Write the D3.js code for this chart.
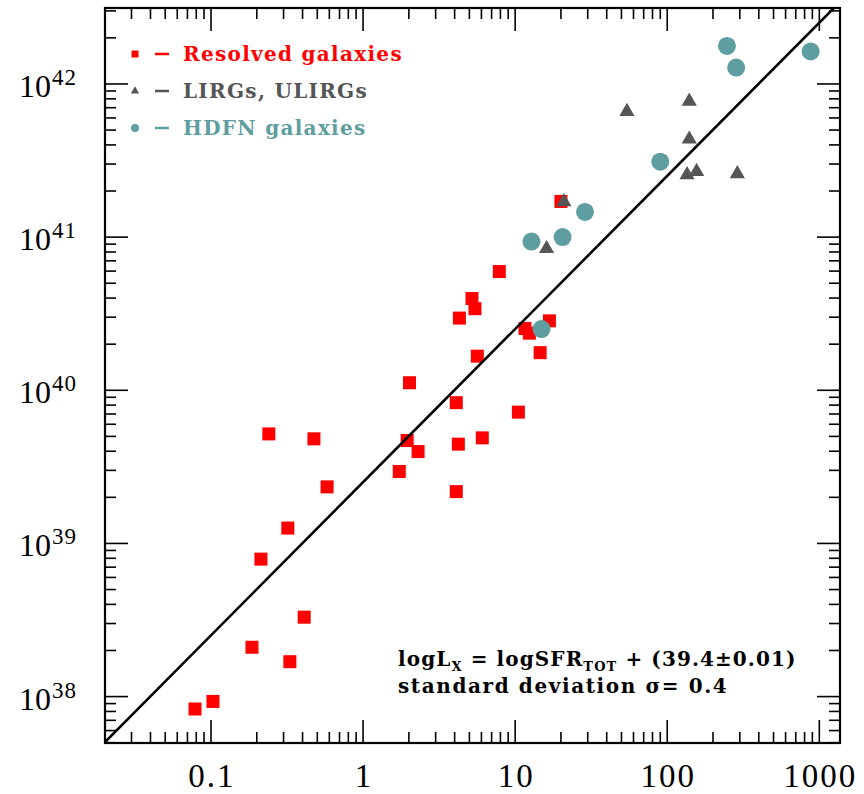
<!DOCTYPE html>
<html>
<head>
<meta charset="utf-8">
<script src="https://cdn.jsdelivr.net/npm/d3@7"></script>
<style>
  body { margin: 0; background: #fff; }
  svg { display: block; }
</style>
</head>
<body>
<div id="chart"></div>
<script>
// Resolved galaxies (red squares): SFR_TOT (Msun/yr) and L_X (erg/s)
const resolvedSfr = [0.0785, 0.103, 0.186, 0.33, 0.41, 0.213, 0.32, 0.58, 0.24, 0.475,
  2.02, 1.95, 2.3, 1.73, 4.1, 4.23, 4.1, 6.08, 10.5, 5.64,
  4.3, 5.2, 5.44, 7.87, 11.6, 12.4, 16.8, 14.6, 20];
const resolvedLx = [8.3e37, 9.3e37, 2.1e38, 1.69e38, 3.3e38, 7.9e38, 1.26e39, 2.34e39, 5.19e39, 4.82e39,
  1.12e40, 4.7e39, 3.98e39, 2.95e39, 8.3e39, 4.45e39, 2.18e39, 4.89e39, 7.2e39, 1.67e40,
  2.96e40, 3.97e40, 3.41e40, 5.96e40, 2.53e40, 2.36e40, 2.84e40, 1.76e40, 1.71e41];

// LIRGs, ULIRGs (gray triangles)
const lirgSfr = [20.9, 16.1, 54.3, 139.6, 139.6, 135, 156, 289];
const lirgLx = [1.7e41, 8.4e40, 6.6e41, 7.7e41, 4.36e41, 2.55e41, 2.68e41, 2.59e41];

// HDFN galaxies (teal circles)
const hdfnSfr = [247, 284, 877, 90, 28.8, 12.8, 20.5, 14.9];
const hdfnLx = [1.77e42, 1.28e42, 1.63e42, 3.11e41, 1.46e41, 9.35e40, 1.0e41, 2.51e40];

// Axis ticks
const xTickValues = [0.1, 1, 10, 100, 1000];
const xTickLabels = ["0.1", "1", "10", "100", "1000"];
const yTickExponents = [38, 39, 40, 41, 42];

// fit: log Lx = log SFR + 39.4
const fitOffset = 39.4;

const width = 864, height = 794;
const plot = { left: 105, right: 840, top: 8, bottom: 743 };

const x = d3.scaleLog()
  .domain([Math.pow(10, -1.697), Math.pow(10, 3.136)])
  .range([plot.left, plot.right]);
const y = d3.scaleLog()
  .domain([Math.pow(10, 37.697), Math.pow(10, 42.496)])
  .range([plot.bottom, plot.top]);

const svg = d3.select("#chart").append("svg")
  .attr("width", width)
  .attr("height", height);

svg.append("defs").append("clipPath").attr("id", "clip")
  .append("rect")
  .attr("x", plot.left).attr("y", plot.top)
  .attr("width", plot.right - plot.left)
  .attr("height", plot.bottom - plot.top);

// minor + major tick lists
function logTicks(lo, hi) {
  const out = [];
  for (let e = Math.floor(Math.log10(lo)); e <= Math.ceil(Math.log10(hi)); e++) {
    for (let m = 1; m <= 9; m++) {
      const v = m * Math.pow(10, e);
      if (v >= lo && v <= hi) out.push({ v, major: m === 1 });
    }
  }
  return out;
}

const majorLen = 23, minorLen = 11;
const tickG = svg.append("g").attr("stroke", "#000").attr("stroke-width", 1.6);

logTicks(...x.domain()).forEach(t => {
  const px = x(t.v), len = t.major ? majorLen : minorLen;
  tickG.append("line").attr("x1", px).attr("x2", px)
    .attr("y1", plot.bottom).attr("y2", plot.bottom - len);
  tickG.append("line").attr("x1", px).attr("x2", px)
    .attr("y1", plot.top).attr("y2", plot.top + len);
});
logTicks(...y.domain()).forEach(t => {
  const py = y(t.v), len = t.major ? majorLen : minorLen;
  tickG.append("line").attr("y1", py).attr("y2", py)
    .attr("x1", plot.left).attr("x2", plot.left + len);
  tickG.append("line").attr("y1", py).attr("y2", py)
    .attr("x1", plot.right).attr("x2", plot.right - len);
});

// frame
svg.append("rect")
  .attr("x", plot.left).attr("y", plot.top)
  .attr("width", plot.right - plot.left)
  .attr("height", plot.bottom - plot.top)
  .attr("fill", "none")
  .attr("stroke", "#000")
  .attr("stroke-width", 2.2);

// tick labels
const tickFont = "'Liberation Serif', serif";
svg.append("g").selectAll("text")
  .data(xTickValues)
  .enter().append("text")
  .attr("x", d => x(d) + 1)
  .attr("y", 787)
  .attr("text-anchor", "middle")
  .style("font-family", tickFont)
  .style("font-size", "33px")
  .style("letter-spacing", "2px")
  .text((d, i) => xTickLabels[i]);

const yLab = svg.append("g").selectAll("text")
  .data(yTickExponents)
  .enter().append("text")
  .attr("x", 19)
  .attr("y", d => y(Math.pow(10, d)) + 13)
  .style("font-family", tickFont)
  .style("font-size", "32px");
yLab.append("tspan").text("10");
yLab.append("tspan")
  .attr("dx", 1)
  .attr("dy", -12)
  .style("font-size", "23px")
  .style("letter-spacing", "1px")
  .text(d => d);

// markers
const marks = svg.append("g");
const sq = 13;
marks.selectAll("rect.res")
  .data(resolvedSfr.map((s, i) => [s, resolvedLx[i]]))
  .enter().append("rect")
  .attr("class", "res")
  .attr("x", d => x(d[0]) - sq / 2)
  .attr("y", d => y(d[1]) - sq / 2)
  .attr("width", sq).attr("height", sq)
  .attr("fill", "#ff0000");

const tri = d3.symbol().type(d3.symbolTriangle).size(100);
marks.selectAll("path.lirg")
  .data(lirgSfr.map((s, i) => [s, lirgLx[i]]))
  .enter().append("path")
  .attr("class", "lirg")
  .attr("d", tri)
  .attr("transform", d => `translate(${x(d[0])},${y(d[1])})`)
  .attr("fill", "#555555");

marks.selectAll("circle.hdfn")
  .data(hdfnSfr.map((s, i) => [s, hdfnLx[i]]))
  .enter().append("circle")
  .attr("class", "hdfn")
  .attr("cx", d => x(d[0]))
  .attr("cy", d => y(d[1]))
  .attr("r", 9)
  .attr("fill", "#5f9ea0");

// fit line
const [x0, x1] = x.domain();
svg.append("line")
  .attr("clip-path", "url(#clip)")
  .attr("x1", x(x0)).attr("y1", y(x0 * Math.pow(10, fitOffset)))
  .attr("x2", x(x1)).attr("y2", y(x1 * Math.pow(10, fitOffset)))
  .attr("stroke", "#000")
  .attr("stroke-width", 2.6);

// legend
const legendItems = [
  { label: "Resolved galaxies", color: "#ff0000", shape: "square" },
  { label: "LIRGs, ULIRGs", color: "#555555", shape: "triangle" },
  { label: "HDFN galaxies", color: "#5f9ea0", shape: "circle" }
];
const boldFont = "'DejaVu Serif', serif";
const legend = svg.append("g").attr("transform", "translate(135, 54)");
const row = legend.selectAll("g").data(legendItems).enter().append("g")
  .attr("transform", (d, i) => `translate(0, ${i * 37})`);
row.each(function(d) {
  const g = d3.select(this);
  if (d.shape === "square") {
    g.append("rect").attr("x", -3.5).attr("y", -3.5).attr("width", 7).attr("height", 7).attr("fill", d.color);
  } else if (d.shape === "triangle") {
    g.append("path").attr("d", d3.symbol().type(d3.symbolTriangle).size(30)).attr("fill", d.color);
  } else {
    g.append("circle").attr("r", 4).attr("fill", d.color);
  }
  g.append("line").attr("x1", 20).attr("x2", 34).attr("y1", 0).attr("y2", 0)
    .attr("stroke", d.color).attr("stroke-width", 2.5);
  g.append("text").attr("x", 48).attr("y", 7)
    .style("font-family", boldFont).style("font-weight", "bold")
    .style("font-size", "20px").style("letter-spacing", "1.3px")
    .attr("fill", d.color)
    .text(d.label);
});

// annotation
const ann = svg.append("g")
  .style("font-family", boldFont).style("font-weight", "bold").style("font-size", "20px");
const l1 = ann.append("text").attr("x", 398).attr("y", 666).style("letter-spacing", "1.1px");
l1.append("tspan").text("logL");
l1.append("tspan").attr("dy", 5).style("font-size", "13px").text("X");
l1.append("tspan").attr("dy", -5).text(" = logSFR");
l1.append("tspan").attr("dy", 5).style("font-size", "13px").text("TOT");
l1.append("tspan").attr("dy", -5).text(" + (39.4±0.01)");
ann.append("text").attr("x", 398).attr("y", 693)
  .style("letter-spacing", "1.6px")
  .text("standard deviation σ= 0.4");
</script>
</body>
</html>
